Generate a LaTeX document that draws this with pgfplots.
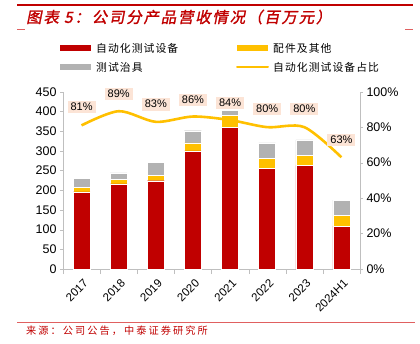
\documentclass[border=0pt]{standalone}
\usepackage{pgfplots}
\usepackage{pgfplotstable}
\pgfplotsset{compat=1.18}
\usepackage{fontspec}
\setmainfont{Liberation Sans}
\newfontfamily\cjk{Noto Sans CJK SC}
\newfontfamily\cjktitle[FakeSlant=0.2,FakeBold=1.5,LetterSpace=12]{Noto Sans CJK SC}
\newfontfamily\cjkleg[LetterSpace=10]{Noto Sans CJK SC}
\newfontfamily\cjksrc[LetterSpace=20]{Noto Sans CJK SC}
\definecolor{cred}{HTML}{C00000}
\definecolor{cyel}{HTML}{FFC000}
\definecolor{cgray}{HTML}{B2B2B2}
\definecolor{cpeach}{HTML}{FCE4D6}
\definecolor{caxis}{HTML}{BFBFBF}
\definecolor{csrc}{HTML}{E06060}
\pgfplotstableread{
x red yel gray pct
0 196 11 23 81
1 216 12 16 89
2 224 14 33 83
3 300 20 31 86
4 359 31 12 84
5 255 25 40 80
6 263 26 39 80
7 109 27 39 63
}\datatable
\begin{document}
\begin{tikzpicture}
\useasboundingbox (0,0) rectangle (420pt,343pt);
\begin{axis}[
  at={(63pt,74pt)}, anchor=south west, scale only axis,
  width=297pt, height=177.3pt,
  xmin=-0.5, xmax=7.5, ymin=0, ymax=450, ytick={0,50,...,450},
  xtick={0,...,7}, xticklabels={2017,2018,2019,2020,2021,2022,2023,2024H1},
  major x tick style={draw=none},
  minor xtick={-0.5,0.5,...,7.5}, minor tick length=5pt,
  major tick length=3pt,
  axis x line*=bottom, axis y line*=left,
  tick align=outside, axis line style={caxis}, tick style={caxis},
  ybar stacked, bar width=17pt,
  xticklabel style={rotate=45, anchor=north east, font=\fontsize{11.5}{11.5}\selectfont, yshift=-2pt},
  yticklabel style={font=\fontsize{12.5}{12.5}\selectfont},
  /pgf/number format/assume math mode=true,
  clip=false,
]
\addplot[fill=cred, draw=white, line width=0.4pt] table[x=x,y=red]{\datatable};
\addplot[fill=cyel, draw=white, line width=0.4pt] table[x=x,y=yel]{\datatable};
\addplot[fill=cgray, draw=white, line width=0.4pt] table[x=x,y=gray]{\datatable};
\end{axis}
\begin{axis}[
  at={(63pt,74pt)}, anchor=south west, scale only axis,
  width=297pt, height=177.3pt,
  xmin=-0.5, xmax=7.5, ymin=0, ymax=100, ytick={0,20,...,100},
  yticklabel={\pgfmathprintnumber{\tick}\%},
  axis y line*=right, axis x line=none,
  tick align=outside, axis line style={caxis}, tick style={caxis},
  major tick length=3pt,
  yticklabel style={font=\fontsize{12.5}{12.5}\selectfont},
  /pgf/number format/assume math mode=true,
  clip=false,
]
\addplot[smooth, cyel, line width=2.6pt] table[x=x,y=pct]{\datatable};
\addplot[draw=none, mark=none, nodes near coords, point meta=explicit symbolic,
  nodes near coords style={anchor=center, fill=cpeach, inner xsep=3pt, inner ysep=2.5pt, font=\fontsize{11}{11}\selectfont, text=black}]
  coordinates {(0,91.4)[81\%] (1,98.7)[89\%] (2,93)[83\%] (3,95.3)[86\%] (4,93.6)[84\%] (5,90.2)[80\%] (6,90.2)[80\%] (7,72.8)[63\%]};
\end{axis}
% legend
\fill[cred] (60pt,292pt) rectangle (91pt,298pt);
\node[anchor=west, inner sep=0pt] at (96pt,295pt) {\cjkleg\fontsize{10.8}{10.8}\selectfont 自动化测试设备};
\fill[cyel] (237pt,292pt) rectangle (268pt,298pt);
\node[anchor=west, inner sep=0pt] at (273pt,295pt) {\cjkleg\fontsize{10.8}{10.8}\selectfont 配件及其他};
\fill[cgray] (60pt,273pt) rectangle (91pt,279pt);
\node[anchor=west, inner sep=0pt] at (96pt,276pt) {\cjkleg\fontsize{10.8}{10.8}\selectfont 测试治具};
\draw[cyel, line width=2pt, line cap=round] (237pt,276pt) -- (268pt,276pt);
\node[anchor=west, inner sep=0pt] at (273pt,276pt) {\cjkleg\fontsize{10.8}{10.8}\selectfont 自动化测试设备占比};
% title and frame lines
\draw[cred, line width=1.6pt] (17pt,338pt) -- (413pt,338pt);
\node[anchor=west, inner sep=0pt, text=cred] at (26pt,326pt) {\cjktitle\fontsize{15.4}{15.4}\selectfont 图表 5：公司分产品营收情况（百万元）};
\draw[csrc, line width=0.5pt] (17pt,314pt) -- (25pt,314pt);
\draw[csrc, line width=0.5pt] (405pt,314pt) -- (413pt,314pt);
\draw[csrc, line width=0.6pt] (17pt,21pt) -- (415pt,21pt);
\node[anchor=west, inner sep=0pt, text=cred] at (26pt,12pt) {\cjksrc\fontsize{10.2}{10.2}\selectfont 来源：公司公告，中泰证券研究所};
\end{tikzpicture}
\end{document}
